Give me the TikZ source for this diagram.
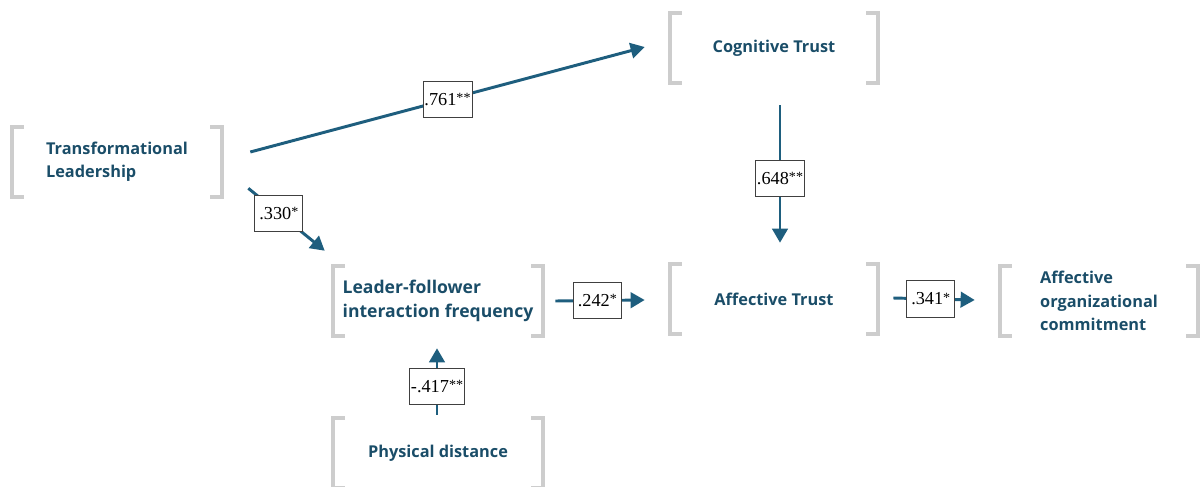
\documentclass[tikz,border=0pt]{standalone}
\usepackage{fontspec}
\setmainfont{Open Sans}
\newfontfamily\coeffont{Liberation Serif}
\usepackage{xcolor}
\usepackage{tikz}
\usetikzlibrary{arrows.meta}
\definecolor{pathblue}{RGB}{30,94,126}
\definecolor{textblue}{RGB}{26,77,104}
\definecolor{bracketgray}{RGB}{205,205,205}
\newcommand{\sig}[1]{\raisebox{0.3ex}{\fontsize{10}{10}\selectfont#1}}
\tikzset{
    Construct/.style = {minimum width=5.25cm, minimum height=1.75cm, inner sep=0pt,
        align=left, text=textblue, font=\bfseries\fontsize{11.6}{16.5}\selectfont},
    Bracket/.style = {draw=bracketgray, line width=2.8pt},
    Path/.style = {draw=pathblue, line width=2.1pt, -{Triangle[length=10pt,width=11pt]}},
    Coef/.style = {draw=black!75, fill=white, line width=0.6pt, inner xsep=1pt,
        minimum width=1.2cm, minimum height=0.9cm, font=\coeffont\fontsize{13}{15}\selectfont}
}

\begin{document}
\begin{tikzpicture}[x=0.025cm, y=-0.025cm]
        \useasboundingbox (0,0) rectangle (1200,486);
        % constructs
        \node[Construct] (TL) at (117,162) {Transformational\\Leadership};
        \node[Construct, minimum width=5.2cm] (CT) at (774,48) {Cognitive Trust};
        \node[Construct, minimum width=5.2cm] (AT) at (774,299) {Affective Trust};
        \node[Construct, font=\bfseries\fontsize{12.5}{17}\selectfont] (LF) at (438,301) {Leader-follower\\interaction frequency};
        \node[Construct] (PD) at (438,453) {Physical distance};
        \node[Construct, minimum width=4.95cm] (AOC) at (1099,301) {Affective\\organizational\\commitment};
        \foreach \n in {TL,CT,AT,LF,PD,AOC}
            {\draw[Bracket] (\n.north west) ++(12,0) -- ++(-12,0) -- (\n.south west) -- ++(12,0);
             \draw[Bracket] (\n.north east) ++(-12,0) -- ++(12,0) -- (\n.south east) -- ++(-12,0);}
        % paths
        \draw[Path] ([shift={(28,-10)}]TL.east) -- node[Coef]{.761\sig{**}} ([shift={(-25,-1)}]CT.west);
        \draw[Path] ([shift={(26,-9)}]TL.south east) -- node[Coef,pos=0.4]{.330\sig{*}} ([shift={(-8,-15)}]LF.north west);
        \draw[Path] ([shift={(6,22)}]CT.south) -- node[Coef,pos=0.53]{.648\sig{**}} ([shift={(6,-21)}]AT.north);
        \draw[Path] ([shift={(12,0)}]LF.east) -- node[Coef,pos=0.47]{.242\sig{*}} ([shift={(-25,1)}]AT.west);
        \draw[Path] ([shift={(15,-1)}]AT.east) -- node[Coef,pos=0.46]{.341\sig{*}} ([shift={(-25,-1)}]AOC.west);
        \draw[Path] ([shift={(-1,-3)}]PD.north) -- node[Coef,pos=0.43]{-.417\sig{**}} ([shift={(-1,12)}]LF.south);
\end{tikzpicture}
\end{document}
